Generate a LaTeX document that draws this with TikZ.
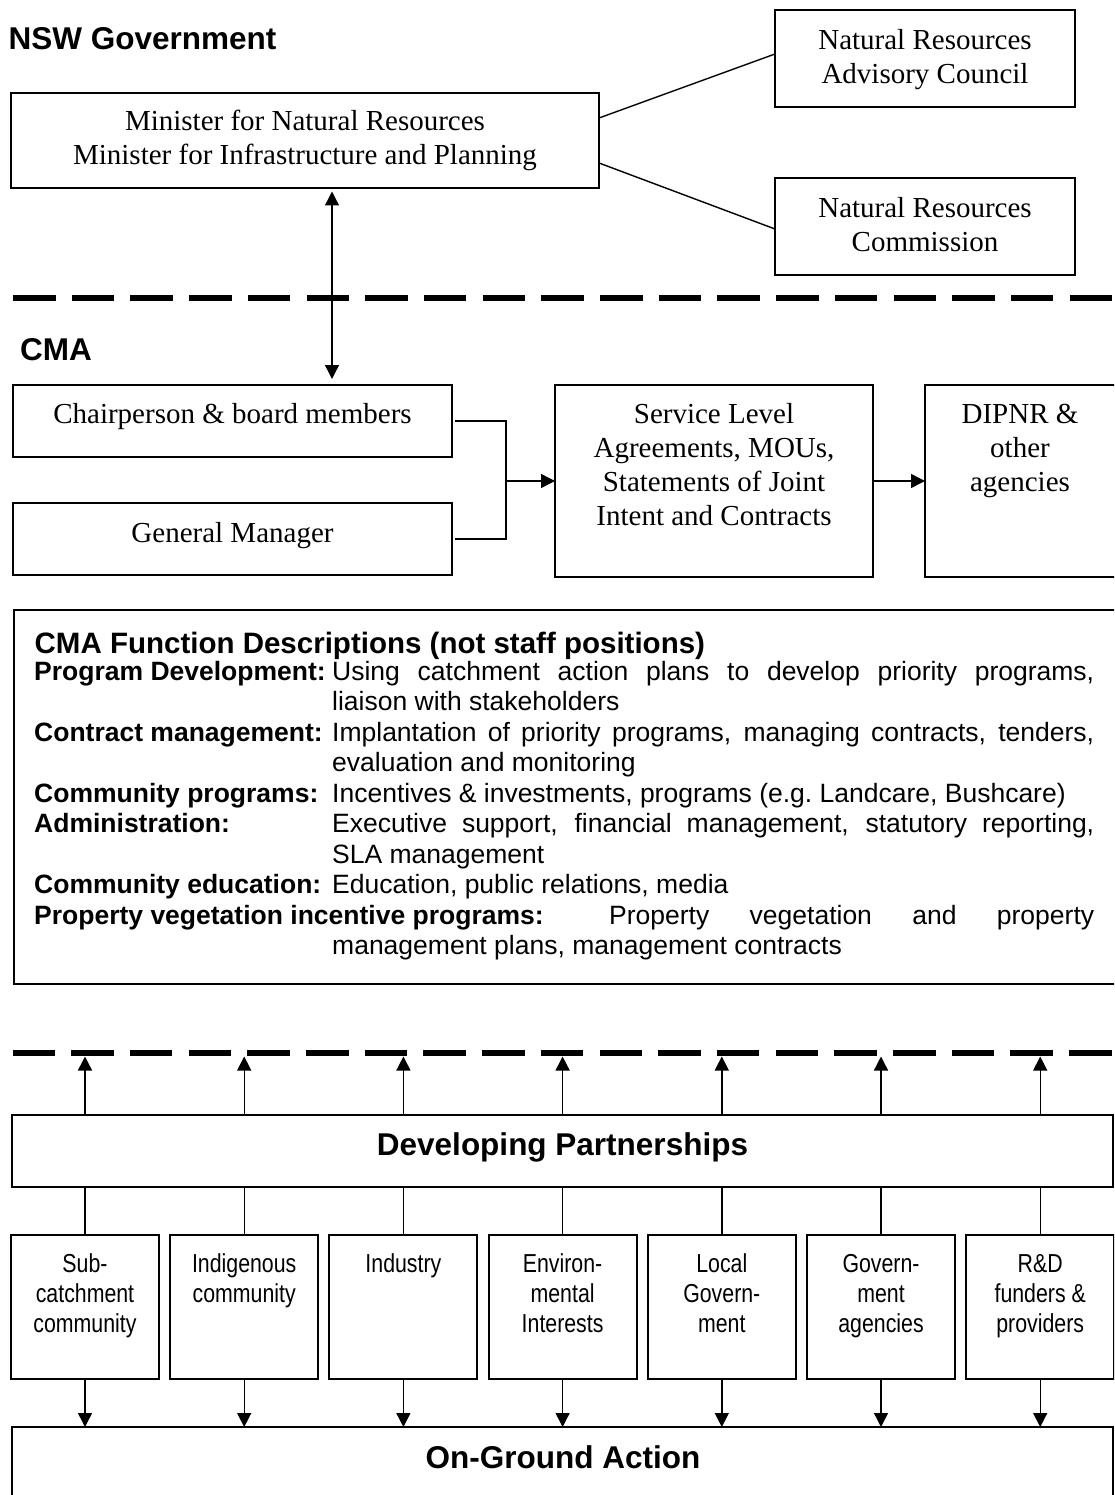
\documentclass[tikz,border=0pt]{standalone}
\usepackage{fontspec}
\setmainfont{Liberation Serif}
\newfontfamily\arialfont{Liberation Sans}
\newfontfamily\narrowfont[FakeStretch=0.82]{Liberation Sans}
\usetikzlibrary{arrows.meta}
\newcommand\dparsetup{\tolerance=10000\hbadness=10000\hyphenpenalty=10000\relax}
\tikzset{
  box/.style={draw, line width=2pt, inner sep=0pt, outer sep=0pt},
  serif/.style={font=\fontsize{29}{34.5}\selectfont, align=center, inner sep=0pt},
  serifb/.style={font=\fontsize{29}{34}\selectfont, align=center, inner sep=0pt},
  narrowtxt/.style={font=\narrowfont\fontsize{26}{30.3}\selectfont, align=center, inner sep=0pt, anchor=north},
  heading/.style={font=\arialfont\bfseries\fontsize{31.5}{36}\selectfont, inner sep=0pt},
  ftitle/.style={font=\arialfont\bfseries\fontsize{29.5}{34}\selectfont, inner sep=0pt, anchor=base west},
  flabel/.style={font=\arialfont\bfseries\fontsize{26.5}{30.55}\selectfont, inner sep=0pt, anchor=base west},
  fdesc/.style={font=\arialfont\fontsize{26.5}{30.55}\selectfont, inner sep=0pt, anchor=base west},
  conn/.style={line width=1.4pt},
  arr/.style={conn, -{Triangle[length=14pt,width=14pt]}},
  dashline/.style={line width=6pt, dash pattern=on 42.5pt off 16.2pt}
}
\begin{document}
\begin{tikzpicture}[x=1pt,y=-1pt]
\useasboundingbox (0,0) rectangle (1114,1495);
\fill[white] (0,0) rectangle (1114,1495);
\clip (0,0) rectangle (1114,1495);

% dashed separators
\draw[dashline] (13,298) -- (1130,298);
\draw[dashline] (12.5,1052.5) -- (1130,1052.5);

% headings
\node[heading, anchor=base west] (nsw) at (8.5,49.5) {NSW Government};
\node[heading, anchor=base west] (cma) at (20,360) {CMA};

% NSW government boxes
\node[box, minimum width=588pt, minimum height=95pt] (min) at (305,140.5) {};
\node[serif, anchor=north] (mint) at (305,105.85) {\strut Minister for Natural Resources\\\strut Minister for Infrastructure and Planning};
\node[box, minimum width=300pt, minimum height=97pt] (nrac) at (925,58.5) {};
\node[serif, anchor=north] (nract) at (925,24.85) {\strut Natural Resources\\\strut Advisory Council};
\node[box, minimum width=300pt, minimum height=97pt] (nrc) at (925,226.5) {};
\node[serif, anchor=north] (nrct) at (925,192.85) {\strut Natural Resources\\\strut Commission};

\draw[conn] ([yshift=22.5pt]min.east) -- ([yshift=4.5pt]nrac.west);
\draw[conn] ([yshift=-22.5pt]min.east) -- ([yshift=-2.5pt]nrc.west);

% CMA boxes
\node[box, minimum width=439pt, minimum height=72pt] (chair) at (232.5,421) {};
\node[serif, anchor=base] (chairt) at (232.5,423) {Chairperson \& board members};
\node[box, minimum width=439pt, minimum height=72pt] (gm) at (232.5,539) {};
\node[serif, anchor=base] (gmt) at (232.5,542) {General Manager};
\node[box, minimum width=318pt, minimum height=192pt] (sla) at (714,481) {};
\node[serifb, anchor=north] (slat) at (714,399.2) {\strut Service Level\\\strut Agreements, MOUs,\\\strut Statements of Joint\\\strut Intent and Contracts};
\node[box, minimum width=200pt, minimum height=192pt] (dip) at (1025,481) {};
\node[serifb, anchor=north] (dipt) at (1020,399.2) {\strut DIPNR \&\\\strut other\\\strut agencies};

% minister <-> chair arrow
\coordinate (ax) at (332,0);
\coordinate (a1) at (min.south -| ax);
\coordinate (a2) at (chair.north -| ax);
\draw[conn, {Triangle[length=14pt,width=14pt]}-{Triangle[length=14pt,width=14pt]}] ([yshift=-3.5pt]a1) -- ([yshift=6pt]a2);

% chair / gm -> sla -> dipnr
\coordinate (jx) at (506,481);
\draw[conn] ([xshift=3pt]chair.east) -| (jx) |- ([xshift=3pt]gm.east);
\draw[arr] (jx) -- (sla.west);
\draw[arr] (sla.east) -- (dip.west);

% function descriptions
\node[box, minimum width=1111pt, minimum height=374pt] (func) at (569.5,797) {};
\node[ftitle] (ft) at (34.5,653) {CMA Function Descriptions (not staff positions)};
\node[flabel] (l1) at (34,680) {Program Development:};
\node[flabel] (l2) at (34,741.1) {Contract management:};
\node[flabel] (l3) at (34,802.2) {Community programs:};
\node[flabel] (l4) at (34,832.75) {Administration:};
\node[flabel] (l5) at (34,893.85) {Community education:};
\node[flabel] (l6) at (34,924.4) {Property vegetation incentive programs:};
\node[fdesc] (d1) at (332,680) {\parbox[t]{762pt}{\dparsetup Using catchment action plans to develop priority programs,\linebreak liaison with stakeholders}};
\node[fdesc] (d2) at (332,741.1) {\parbox[t]{762pt}{\dparsetup Implantation of priority programs, managing contracts, tenders,\linebreak evaluation and monitoring}};
\node[fdesc] (d3) at (332,802.2) {\parbox[t]{762pt}{\dparsetup Incentives \& investments, programs (e.g.\ Landcare, Bushcare)}};
\node[fdesc] (d4) at (332,832.75) {\parbox[t]{762pt}{\dparsetup Executive support, financial management, statutory reporting,\linebreak SLA management}};
\node[fdesc] (d5) at (332,893.85) {\parbox[t]{762pt}{\dparsetup Education, public relations, media}};
\node[fdesc] (d6) at (332,924.4) {\parbox[t]{762pt}{\dparsetup\hspace*{277pt}Property vegetation and property\linebreak management plans, management contracts}};

% developing partnerships
\node[box, minimum width=1101pt, minimum height=72pt] (dp) at (562.5,1151) {};
\node[heading, anchor=base] (dpt) at (562.5,1155) {Developing Partnerships};

% on-ground action
\node[box, minimum width=1101pt, minimum height=93pt] (oga) at (562.5,1473.5) {};
\node[heading, anchor=base] (ogat) at (563,1468) {On-Ground Action};

% stakeholder boxes
\node[box, minimum width=148pt, minimum height=144pt] (sb1) at (85,1307) {};
\node[box, minimum width=148pt, minimum height=144pt] (sb2) at (244.2,1307) {};
\node[box, minimum width=148pt, minimum height=144pt] (sb3) at (403.4,1307) {};
\node[box, minimum width=148pt, minimum height=144pt] (sb4) at (562.6,1307) {};
\node[box, minimum width=148pt, minimum height=144pt] (sb5) at (721.8,1307) {};
\node[box, minimum width=148pt, minimum height=144pt] (sb6) at (881,1307) {};
\node[box, minimum width=148pt, minimum height=144pt] (sb7) at (1040.2,1307) {};
\node[narrowtxt] (st1) at (85,1250.8) {\strut Sub-\\\strut catchment\\\strut community};
\node[narrowtxt] (st2) at (244.2,1250.8) {\strut Indigenous\\\strut community};
\node[narrowtxt] (st3) at (403.4,1250.8) {\strut Industry};
\node[narrowtxt] (st4) at (562.6,1250.8) {\strut Environ-\\\strut mental\\\strut Interests};
\node[narrowtxt] (st5) at (721.8,1250.8) {\strut Local\\\strut Govern-\\\strut ment};
\node[narrowtxt] (st6) at (881,1250.8) {\strut Govern-\\\strut ment\\\strut agencies};
\node[narrowtxt] (st7) at (1040.2,1250.8) {\strut R\&D\\\strut funders \&\\\strut providers};

\foreach \k/\xx in {1/85,2/244.2,3/403.4,4/562.6,5/721.8,6/881,7/1040.2}{
  \coordinate (ut\k) at (\xx,1056.5);
  \draw[arr] (dp.north -| ut\k) -- (ut\k);
  \draw[conn] (sb\k.north) -- (dp.south -| sb\k.north);
  \draw[arr] (sb\k.south) -- (oga.north -| sb\k.south);
}
\end{tikzpicture}
\end{document}
